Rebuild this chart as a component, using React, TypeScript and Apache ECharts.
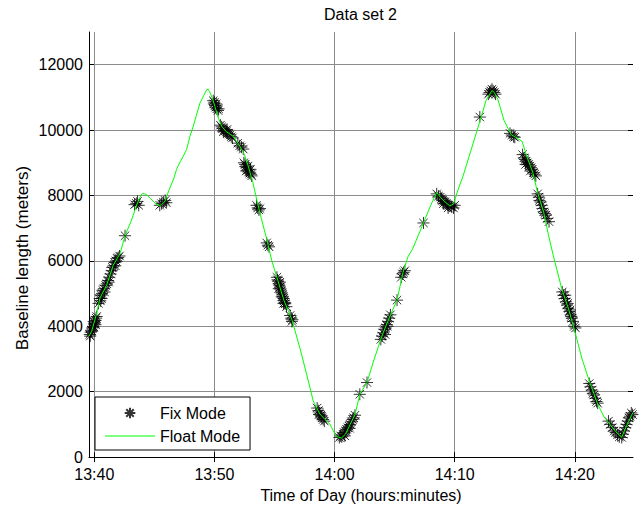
import React, { useEffect, useRef } from "react";
import * as echarts from "echarts";

// minutes after 13:00
const xTicks = [40, 50, 60, 70, 80];
const yTicks = [0, 2000, 4000, 6000, 8000, 10000, 12000];
const xMin = 39.56;
const xMax = 84.84;
const yMin = 0;
const yMax = 13000;

const titleText = "Data set 2";
const xName = "Time of Day (hours:minutes)";
const yName = "Baseline length (meters)";
const seriesNames = ["Fix Mode", "Float Mode"];

// Float Mode (continuous solution) [minute, meters]
const floatData: number[][] = [
  [39.56, 3700], [39.78, 3845], [40.2, 4400], [40.47, 4860], [41.03, 5260], [41.58, 5870],
  [42.14, 6220], [42.56, 6770], [43.1, 7250], [43.56, 7740], [43.8, 7950], [44.0, 8060],
  [44.3, 8040], [44.7, 7900], [45.1, 7750], [45.4, 7690], [45.6, 7720], [45.89, 7830],
  [46.2, 8150], [46.6, 8500], [46.85, 8800], [47.1, 9000], [47.4, 9200], [47.69, 9410],
  [47.95, 9800], [48.24, 10120], [48.5, 10450], [48.8, 10830], [49.1, 11050], [49.35, 11230],
  [49.48, 11250], [49.6, 11180], [49.87, 10930], [50.04, 10720], [50.3, 10400], [50.6, 10115],
  [51.0, 9950], [51.56, 9810], [52.12, 9510], [52.5, 9250], [52.81, 8900], [53.2, 8400],
  [53.51, 7890], [53.9, 7300], [54.34, 6680], [54.78, 6000], [55.28, 5400], [55.78, 4800],
  [56.45, 4200], [57.11, 3340], [57.7, 2500], [58.22, 1720], [58.78, 1315], [59.2, 1150],
  [59.61, 1010], [59.9, 800], [60.17, 630], [60.58, 585], [60.9, 700], [61.3, 1000],
  [61.7, 1300], [62.1, 1920], [62.7, 2280], [63.3, 3000], [64.0, 3760], [64.6, 4300],
  [65.2, 4800], [65.7, 5650], [66.1, 6120], [66.5, 6370], [67.4, 7160], [68.0, 7700],
  [68.5, 8090], [68.8, 7950], [69.2, 7800], [69.6, 7680], [69.9, 7740], [70.3, 8200],
  [70.7, 8600], [71.2, 9200], [71.8, 9915], [72.2, 10400], [72.6, 10900], [73.1, 11210],
  [73.3, 11150], [73.6, 10930], [74.1, 10300], [74.7, 9860], [75.2, 9750], [75.6, 9660],
  [76.0, 9200], [76.5, 8700], [76.9, 8090], [77.4, 7490], [77.8, 6800], [78.2, 6170],
  [78.9, 5160], [79.5, 4500], [80.0, 3845], [80.6, 3000], [81.2, 2330], [81.9, 1620],
  [82.4, 1250], [82.9, 1010], [83.4, 780], [83.9, 607], [84.3, 950], [84.7, 1265], [84.84, 1365],
];

// Fix Mode (fixed solutions) [minute, meters]
const fixData: number[][] = [
  [39.62, 3750], [39.66, 3700], [39.7, 3820], [39.75, 3880], [39.8, 3850], [39.85, 3950],
  [39.9, 4000], [39.95, 3980], [40.0, 4080], [40.05, 4120], [40.1, 4180], [40.15, 4250],
  [40.2, 4300], [39.95, 4150], [40.1, 4050],
  [40.35, 4700], [40.45, 4850], [40.5, 4780], [40.55, 4950], [40.65, 5000], [40.7, 5100],
  [40.8, 5150], [40.85, 5050], [40.95, 5250], [41.05, 5300], [41.15, 5400], [41.25, 5500],
  [41.35, 5600], [41.45, 5700], [41.5, 5800], [41.6, 5850], [41.7, 5950], [41.8, 6000],
  [41.9, 6080], [42.0, 6100], [42.1, 6150], [40.6, 4850], [41.2, 5350], [41.75, 5850],
  [42.56, 6770],
  [43.35, 7720], [43.5, 7760], [43.6, 7820], [43.7, 7700],
  [45.45, 7700], [45.6, 7750], [45.75, 7800], [45.9, 7850], [46.0, 7780],
  [49.9, 10900], [49.95, 10800], [50.0, 10850], [50.05, 10750], [50.1, 10700], [50.15, 10800],
  [50.2, 10650], [50.3, 10600], [50.35, 10650],
  [50.5, 10150], [50.6, 10100], [50.7, 10050], [50.8, 10000], [50.9, 9980], [51.0, 9950],
  [51.1, 9900], [51.2, 9880], [51.3, 9850], [51.4, 9800], [51.5, 9760], [50.75, 9950],
  [51.05, 10020],
  [51.95, 9600], [52.1, 9520], [52.25, 9480], [52.4, 9420],
  [52.45, 9000], [52.55, 8950], [52.6, 8880], [52.7, 8850], [52.75, 8780], [52.8, 8900],
  [52.85, 8720], [52.95, 8680], [53.0, 8800], [53.05, 8650], [53.1, 8600], [52.65, 8750],
  [53.5, 7700], [53.6, 7620], [53.7, 7560], [53.8, 7600],
  [54.35, 6550], [54.45, 6480], [54.55, 6430],
  [55.2, 5500], [55.25, 5420], [55.3, 5380], [55.35, 5300], [55.4, 5260], [55.45, 5200],
  [55.5, 5140], [55.55, 5080], [55.6, 5020], [55.65, 4960], [55.7, 4900], [55.75, 4850],
  [55.8, 4780], [55.85, 4730], [55.9, 4690], [56.0, 4600], [55.35, 5150], [55.6, 4900],
  [55.45, 5350], [55.75, 4700],
  [56.3, 4330], [56.4, 4250], [56.5, 4200], [56.45, 4150],
  [58.55, 1500], [58.65, 1420], [58.7, 1300], [58.75, 1350], [58.85, 1280], [58.9, 1250],
  [58.95, 1200], [59.05, 1150], [59.15, 1100],
  [60.4, 600], [60.5, 650], [60.6, 620], [60.7, 700], [60.8, 750], [60.9, 800], [61.0, 850],
  [61.1, 900], [61.2, 950], [61.3, 1000], [61.4, 1080], [61.5, 1150], [61.6, 1200], [61.7, 1280],
  [60.85, 650], [61.25, 880],
  [62.1, 1920], [62.7, 2280],
  [63.85, 3600], [63.95, 3700], [64.05, 3800], [64.15, 3900], [64.25, 3950], [64.35, 4050],
  [64.45, 4150], [64.55, 4250], [64.65, 4350], [64.2, 3750], [64.4, 4000],
  [65.2, 4800],
  [65.55, 5500], [65.65, 5600], [65.75, 5650], [65.85, 5700],
  [67.4, 7160],
  [68.5, 8050], [68.65, 7980], [68.8, 7950], [68.9, 7900], [69.0, 7850], [69.1, 7820],
  [69.2, 7800], [69.3, 7760], [69.4, 7720], [69.5, 7700], [69.6, 7680], [69.75, 7650],
  [69.9, 7620], [70.0, 7700], [69.05, 7750], [69.45, 7620],
  [72.09, 10400],
  [72.8, 11100], [72.9, 11150], [73.0, 11200], [73.1, 11250], [73.2, 11200], [73.3, 11150], [73.4, 11100],
  [74.6, 9900], [74.75, 9850], [74.9, 9800], [75.0, 9780],
  [75.65, 9250], [75.75, 9150], [75.85, 9100], [75.95, 9050], [76.05, 9000], [76.15, 8950],
  [76.25, 8900], [76.35, 8850], [76.45, 8800], [76.55, 8700], [76.65, 8650], [76.75, 8600],
  [75.9, 8950], [76.3, 8750],
  [76.9, 8050], [77.0, 7950], [77.05, 7850], [77.15, 7800], [77.25, 7700], [77.3, 7600],
  [77.4, 7500], [77.5, 7450], [77.6, 7400], [77.7, 7300], [77.85, 7200],
  [78.95, 5050], [79.05, 4950], [79.15, 4850], [79.25, 4750], [79.35, 4650], [79.4, 4700],
  [79.45, 4550], [79.55, 4450], [79.65, 4350], [79.7, 4300], [79.75, 4250], [79.85, 4150],
  [79.95, 4000], [80.05, 3950], [79.2, 4950], [79.6, 4500],
  [81.2, 2250], [81.3, 2150], [81.4, 2050], [81.5, 1950], [81.6, 1900], [81.7, 1800],
  [81.8, 1700], [81.9, 1650],
  [82.8, 1100], [82.95, 1000], [83.1, 900], [83.25, 800], [83.4, 750], [83.55, 680], [83.7, 620],
  [83.9, 600], [84.0, 700], [84.1, 800], [84.2, 900], [84.3, 1000], [84.4, 1100], [84.5, 1200],
  [84.6, 1250], [84.7, 1350], [84.8, 1300],
];

const FONT = '"Liberation Sans", Arial, sans-serif';
const ASTERISK =
  "path://M-9,-9M9,9M0,-6L0,6M-6,0L6,0M-4.2,-4.2L4.2,4.2M-4.2,4.2L4.2,-4.2";
const LINE_ICON = "path://M0,0M50,16M0,7.5L50,7.5L50,8.6L0,8.6Z";

function fmtTime(v: number): string {
  const total = Math.round(v);
  const h = 13 + Math.floor(total / 60);
  const m = total % 60;
  return `${h}:${String(m).padStart(2, "0")}`;
}

export default function App() {
  const ref = useRef<HTMLDivElement>(null);
  useEffect(() => {
    if (!ref.current) return;
    const chart = echarts.init(ref.current, null, { renderer: "svg" });
    const gridColor = "#8c8c8c";
    chart.setOption({
      animation: false,
      backgroundColor: "#fff",
      textStyle: { fontFamily: FONT },
      title: {
        text: titleText,
        left: 324,
        top: 6,
        padding: 0,
        textStyle: { fontFamily: FONT, fontSize: 16, fontWeight: "normal", color: "#000" },
      },
      grid: { left: 89, right: 10, top: 32, bottom: 48, containLabel: false },
      legend: {
        orient: "vertical",
        left: 95,
        top: 397,
        backgroundColor: "#fff",
        borderColor: "#000",
        borderWidth: 1,
        borderRadius: 0,
        padding: [7, 10, 6, 10],
        itemGap: 6,
        itemWidth: 50,
        itemHeight: 16,
        itemTextGap: 5,
        textStyle: { fontFamily: FONT, fontSize: 16, color: "#000" },
        data: [
          { name: seriesNames[0] },
          { name: seriesNames[1], icon: LINE_ICON, itemStyle: { color: "#00ff00", borderWidth: 0 } },
        ],
        z: 10,
      },
      xAxis: [
        {
          type: "value",
          min: xMin,
          max: xMax,
          name: xName,
          nameLocation: "middle",
          nameGap: 27,
          nameTextStyle: { fontFamily: FONT, fontSize: 16, color: "#000" },
          axisLine: { show: true, onZero: false, lineStyle: { color: "#000", width: 1 } },
          axisTick: { show: true, inside: true, length: 5, customValues: xTicks, lineStyle: { color: "#000" } },
          axisLabel: {
            customValues: xTicks,
            formatter: (v: number) => fmtTime(v),
            fontFamily: FONT,
            fontSize: 16,
            lineHeight: 14,
            color: "#000",
            margin: 10,
          },
          splitLine: { show: true, lineStyle: { color: gridColor, width: 1 } },
        },
        {
          type: "value",
          position: "top",
          min: xMin,
          max: xMax,
          axisLine: { show: false },
          axisTick: { show: true, inside: true, length: 5, customValues: xTicks, lineStyle: { color: "#000" } },
          axisLabel: { show: false },
          splitLine: { show: false },
        },
      ],
      yAxis: [
        {
          type: "value",
          min: yMin,
          max: yMax,
          axisLine: { show: true, onZero: false, lineStyle: { color: "#000", width: 1 } },
          axisTick: { show: true, inside: true, length: 5, customValues: yTicks, lineStyle: { color: "#000" } },
          axisLabel: {
            customValues: yTicks,
            formatter: (v: number) => String(v),
            fontFamily: FONT,
            fontSize: 16,
            lineHeight: 12,
            color: "#000",
            margin: 6,
          },
          splitLine: { show: true, lineStyle: { color: gridColor, width: 1 } },
        },
        {
          type: "value",
          position: "right",
          min: yMin,
          max: yMax,
          axisLine: { show: false },
          axisTick: { show: true, inside: true, length: 5, customValues: yTicks, lineStyle: { color: "#000" } },
          axisLabel: { show: false },
          splitLine: { show: false },
        },
      ],
      graphic: [
        {
          type: "text",
          x: 22,
          y: 258,
          rotation: Math.PI / 2,
          style: {
            text: yName,
            align: "center",
            verticalAlign: "middle",
            font: `17px ${FONT}`,
            fill: "#000",
          },
        },
      ],
      series: [
        {
          name: seriesNames[0],
          type: "scatter",
          xAxisIndex: 0,
          yAxisIndex: 0,
          data: fixData,
          symbol: ASTERISK,
          symbolSize: 18,
          symbolKeepAspect: true,
          clip: false,
          itemStyle: { color: "rgba(0,0,0,0)", borderColor: "#000", borderWidth: 1 },
          emphasis: { disabled: true },
          z: 2,
        },
        {
          name: seriesNames[1],
          type: "line",
          xAxisIndex: 0,
          yAxisIndex: 0,
          data: floatData,
          symbol: "none",
          showSymbol: false,
          lineStyle: { color: "#00ff00", width: 1 },
          itemStyle: { color: "#00ff00" },
          emphasis: { disabled: true },
          z: 3,
        },
      ],
    });
    return () => chart.dispose();
  }, []);
  return (
    <div
      ref={ref}
      style={{ position: "fixed", left: 0, top: 0, width: 643, height: 508, background: "#fff" }}
    />
  );
}
